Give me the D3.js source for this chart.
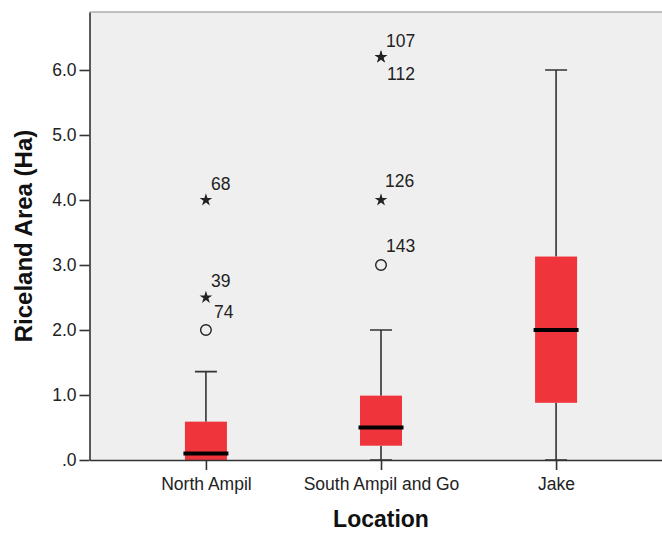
<!DOCTYPE html>
<html>
<head>
<meta charset="utf-8">
<script src="https://cdn.jsdelivr.net/npm/d3@7"></script>
<style>
  body { margin: 0; background: #fff; }
  svg { display: block; font-family: "Liberation Sans", Arial, sans-serif; }
</style>
</head>
<body>
<div id="chart"></div>
<script>
// box plot summaries
const categories = ["North Ampil", "South Ampil and Go", "Jake"];
const whiskerLow = [0, 0, 0];
const q1 = [0, 0.22, 0.88];
const medians = [0.1, 0.5, 2.0];
const q3 = [0.59, 0.99, 3.13];
const whiskerHigh = [1.36, 2.0, 6.0];

// outliers: group index, value, case label, kind
const outlierGroup = [0, 0, 0, 1, 1, 1, 1];
const outlierValue = [4.0, 2.5, 2.0, 6.2, 6.2, 4.0, 3.0];
const outlierCase = ["68", "39", "74", "107", "112", "126", "143"];
const outlierKind = ["extreme", "extreme", "mild", "extreme", "extreme", "extreme", "mild"];

const yTicks = [0, 1, 2, 3, 4, 5, 6];

const W = 662, H = 533;
const plot = { left: 89.5, top: 12, bottom: 460, right: 672.5 };

const svg = d3.select("#chart").append("svg")
    .attr("width", W)
    .attr("height", H);

const x = d3.scalePoint()
    .domain(categories)
    .range([plot.left, plot.right])
    .padding(0.665);

const y = d3.scaleLinear()
    .domain([0, 6.892])
    .range([plot.bottom, plot.top]);

// plot background
svg.append("rect")
    .attr("x", plot.left)
    .attr("y", plot.top)
    .attr("width", plot.right - plot.left)
    .attr("height", plot.bottom - plot.top)
    .attr("fill", "#efefef");

svg.append("line")
    .attr("x1", plot.left).attr("x2", plot.right)
    .attr("y1", plot.top).attr("y2", plot.top)
    .attr("stroke", "#8a8a8a")
    .attr("stroke-width", 1.2);

const boxW = 42, capW = 22, medW = 45;
const boxes = categories.map((c, i) => ({
    cat: c, lo: whiskerLow[i], q1: q1[i], med: medians[i], q3: q3[i], hi: whiskerHigh[i]
}));

const g = svg.append("g");

// whiskers
g.selectAll(".whisker")
    .data(boxes)
    .enter().append("path")
    .attr("class", "whisker")
    .attr("fill", "none")
    .attr("stroke", "#333")
    .attr("stroke-width", 1.6)
    .attr("d", d => {
        const cx = x(d.cat);
        let p = `M${cx},${y(d.q3)}V${y(d.hi)}M${cx - capW / 2},${y(d.hi)}H${cx + capW / 2}`;
        if (d.lo < d.q1) {
            p += `M${cx},${y(d.q1)}V${y(d.lo)}M${cx - capW / 2},${y(d.lo)}H${cx + capW / 2}`;
        }
        return p;
    });

// boxes
g.selectAll(".box")
    .data(boxes)
    .enter().append("rect")
    .attr("class", "box")
    .attr("x", d => x(d.cat) - boxW / 2)
    .attr("y", d => y(d.q3))
    .attr("width", boxW)
    .attr("height", d => y(d.q1) - y(d.q3))
    .attr("fill", "#f0343c");

// medians
g.selectAll(".median")
    .data(boxes)
    .enter().append("line")
    .attr("class", "median")
    .attr("x1", d => x(d.cat) - medW / 2)
    .attr("x2", d => x(d.cat) + medW / 2)
    .attr("y1", d => y(d.med))
    .attr("y2", d => y(d.med))
    .attr("stroke", "#000")
    .attr("stroke-width", 3.8);

// axes
const yAxis = svg.append("g")
    .attr("transform", `translate(${plot.left},0)`)
    .call(d3.axisLeft(y)
        .tickValues(yTicks)
        .tickSize(10)
        .tickSizeOuter(0)
        .tickPadding(3)
        .tickFormat(d => d === 0 ? ".0" : d.toFixed(1)));

const xAxis = svg.append("g")
    .attr("transform", `translate(0,${plot.bottom})`)
    .call(d3.axisBottom(x)
        .tickSize(10)
        .tickSizeOuter(0)
        .tickPadding(8));

[yAxis, xAxis].forEach(a => {
    a.select(".domain").attr("stroke", "#333").attr("stroke-width", 1.6);
    a.selectAll(".tick line").attr("stroke", "#333").attr("stroke-width", 1.6);
    a.selectAll(".tick text")
        .attr("fill", "#222")
        .style("font-size", "17.5px");
});

// outliers
const outliers = outlierValue.map((v, i) => ({
    cat: categories[outlierGroup[i]], v: v, id: outlierCase[i], kind: outlierKind[i]
}));

const star = d3.symbol().type(d3.symbolStar).size(50);

svg.selectAll(".out-star")
    .data(outliers.filter(d => d.kind === "extreme"))
    .enter().append("path")
    .attr("class", "out-star")
    .attr("transform", d => `translate(${x(d.cat)},${y(d.v)})`)
    .attr("d", star)
    .attr("fill", "#222");

svg.selectAll(".out-circle")
    .data(outliers.filter(d => d.kind === "mild"))
    .enter().append("circle")
    .attr("class", "out-circle")
    .attr("cx", d => x(d.cat))
    .attr("cy", d => y(d.v))
    .attr("r", 5.3)
    .attr("fill", "none")
    .attr("stroke", "#222")
    .attr("stroke-width", 1.4);

// label nudges for cases that share a spot
const labelNudge = { "74": [8, -12], "112": [6, 23], "126": [4, -13], "143": [5, -13] };

svg.selectAll(".out-label")
    .data(outliers)
    .enter().append("text")
    .attr("class", "out-label")
    .attr("x", d => x(d.cat) + (labelNudge[d.id] ? labelNudge[d.id][0] : 5))
    .attr("y", d => y(d.v) + (labelNudge[d.id] ? labelNudge[d.id][1] : -10))
    .attr("fill", "#222")
    .style("font-size", "17.5px")
    .text(d => d.id);

// axis titles
svg.append("text")
    .attr("transform", `translate(32,${(plot.top + plot.bottom) / 2}) rotate(-90)`)
    .attr("text-anchor", "middle")
    .style("font-size", "24px")
    .style("font-weight", "bold")
    .attr("fill", "#111")
    .text("Riceland Area (Ha)");

svg.append("text")
    .attr("x", (plot.left + plot.right) / 2)
    .attr("y", 527)
    .attr("text-anchor", "middle")
    .style("font-size", "23px")
    .style("font-weight", "bold")
    .attr("fill", "#111")
    .text("Location");
</script>
</body>
</html>
